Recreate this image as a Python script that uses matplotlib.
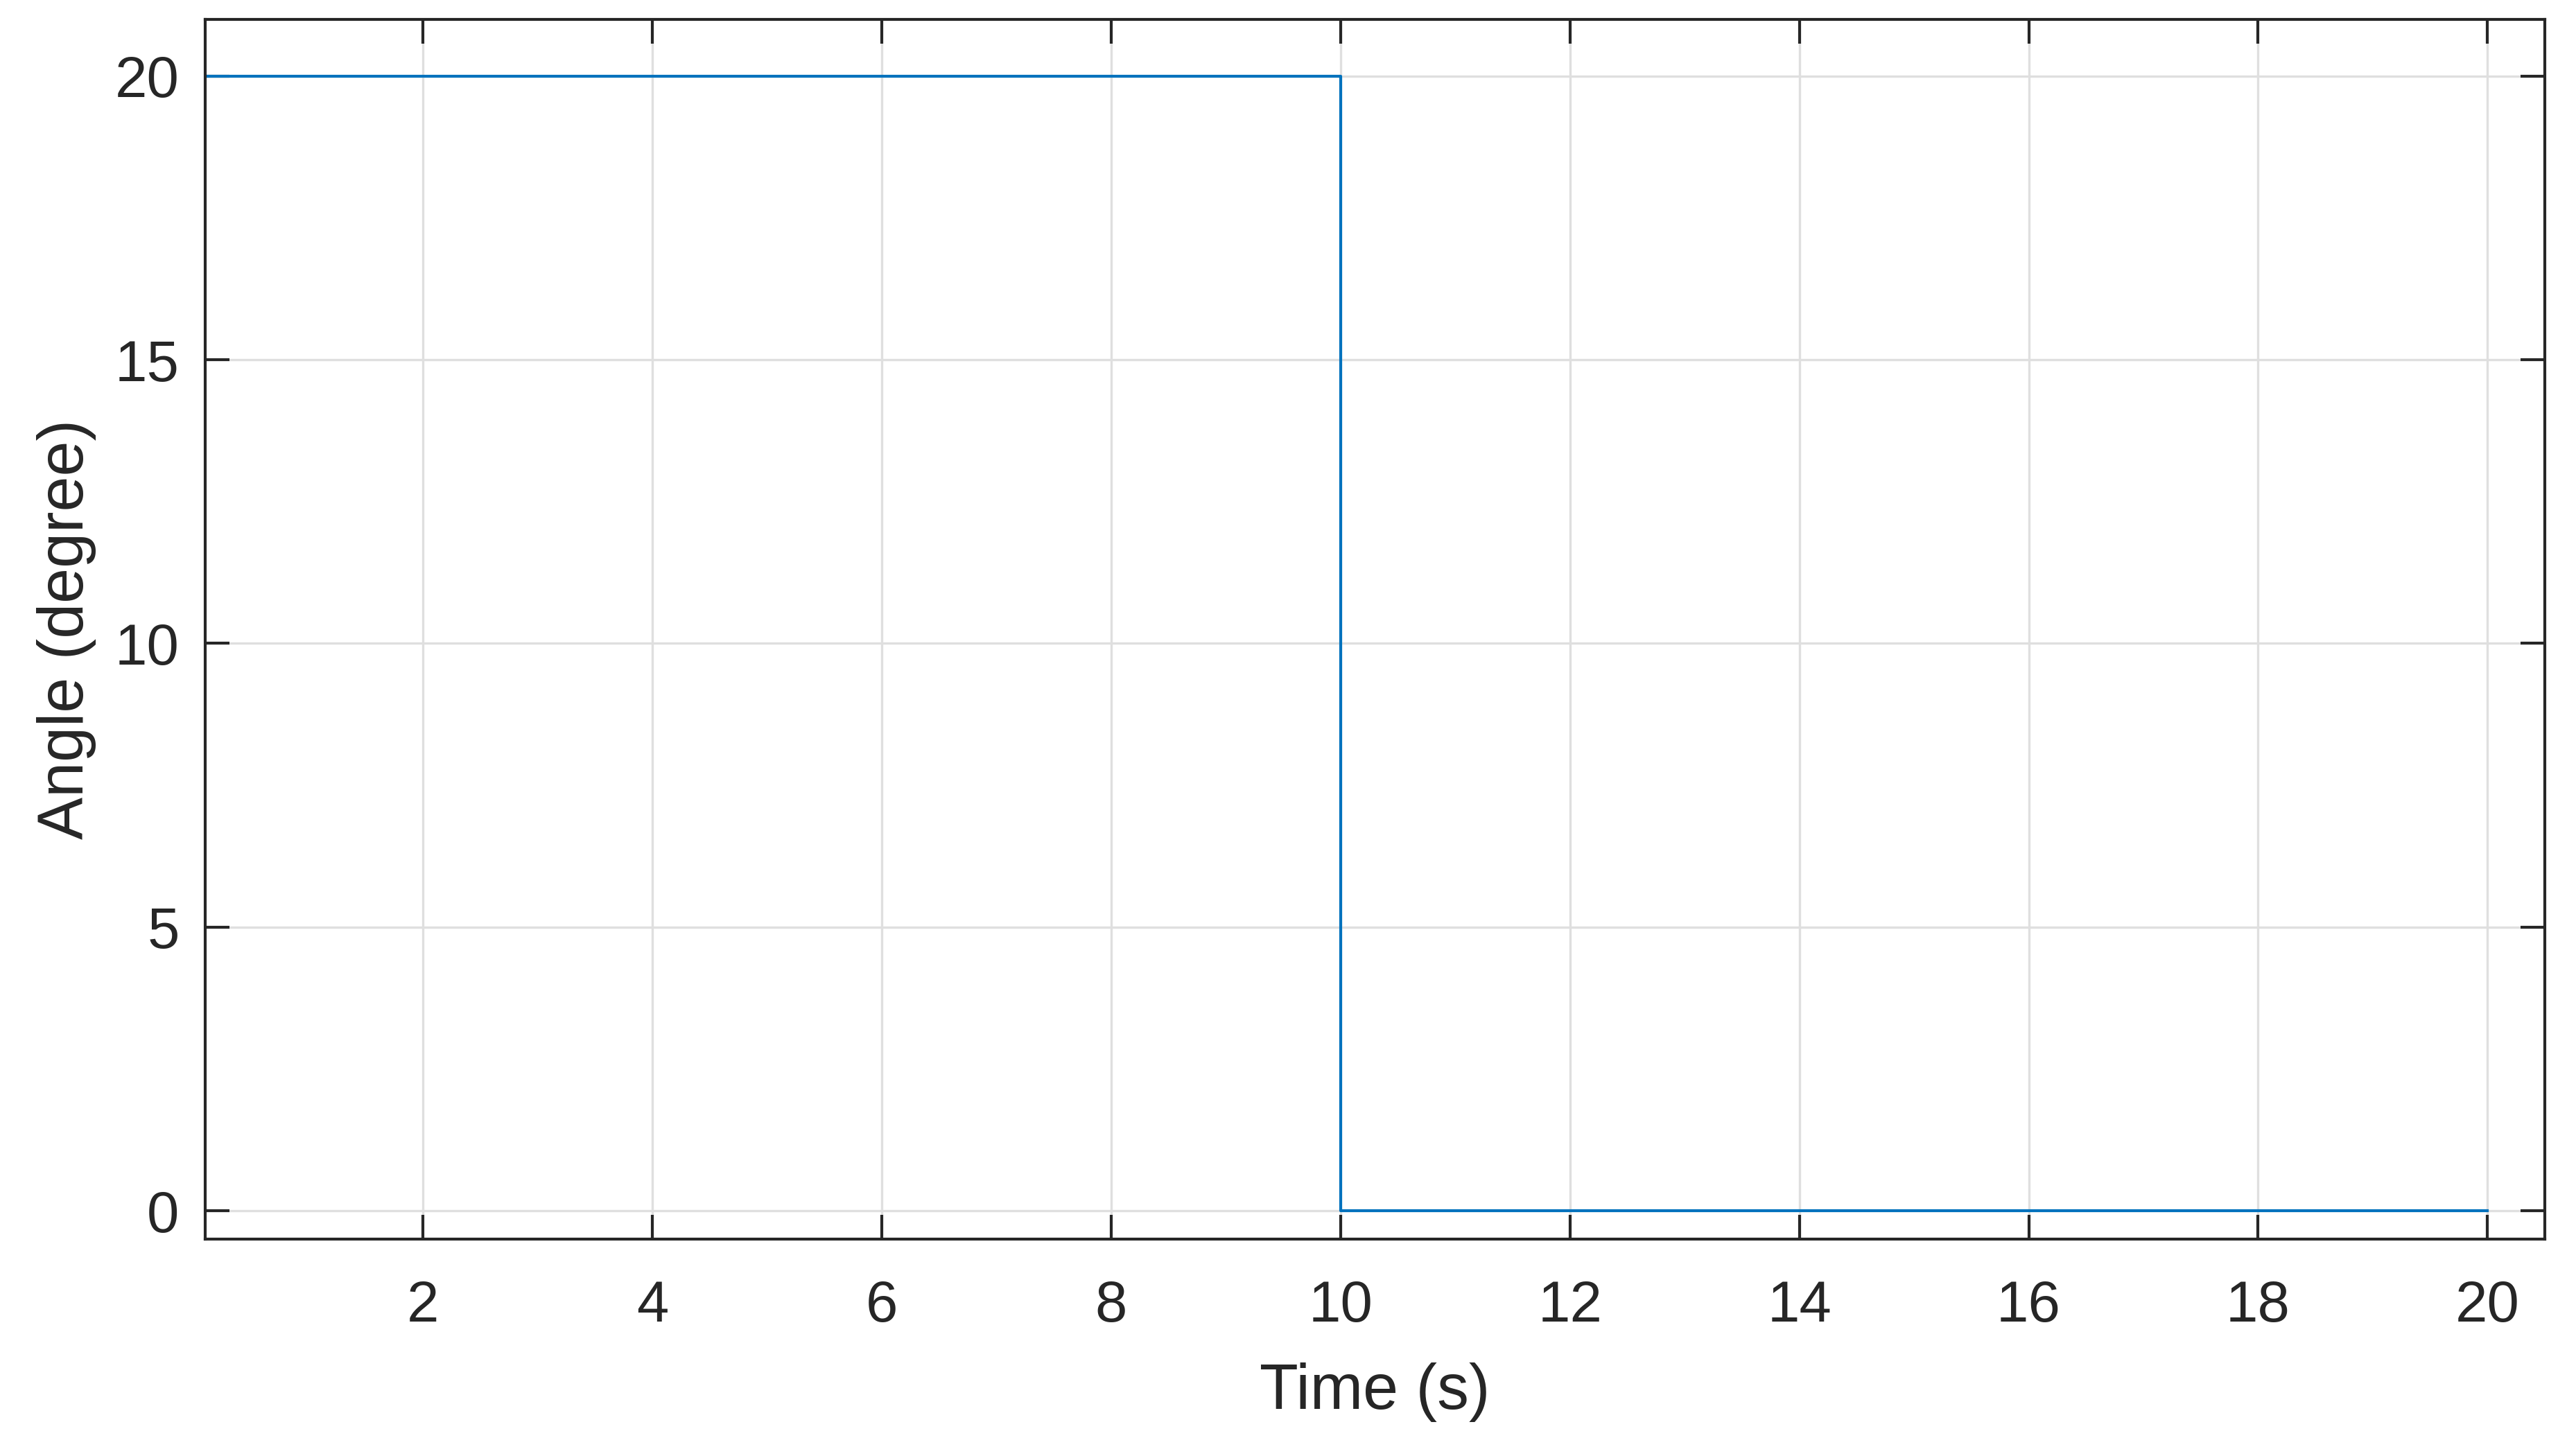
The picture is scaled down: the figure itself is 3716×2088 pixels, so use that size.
import numpy as np
import matplotlib.pyplot as plt

plt.rcParams['font.family'] = ['Liberation Sans', 'DejaVu Sans']

# step signal: 20 deg until t=10 s, then 0
time_s = [0, 10, 10, 20]
angle_deg = [20, 20, 0, 0]
x_ticks = [2, 4, 6, 8, 10, 12, 14, 16, 18, 20]
y_ticks = [0, 5, 10, 15, 20]

dark = '#262626'

fig = plt.figure(figsize=(3716 / 300, 2088 / 300), dpi=300)
ax = fig.add_axes([296 / 3716, 300 / 2088, 3375 / 3716, 1760 / 2088])

ax.plot(time_s, angle_deg, color='#0072BD', lw=1.0)

ax.set_xlim(0.1, 20.5)
ax.set_ylim(-0.5, 21)
ax.set_xticks(x_ticks)
ax.set_yticks(y_ticks)

ax.grid(True, color='#dfdfdf', lw=0.8)
ax.set_axisbelow(True)

for s in ax.spines.values():
    s.set_color(dark)
    s.set_linewidth(1.0)

ax.tick_params(direction='in', length=8.5, width=1.0, colors=dark,
               labelsize=20, top=True, right=True)
ax.tick_params(axis='x', pad=14)
ax.tick_params(axis='y', pad=9)

ax.set_xlabel('Time (s)', fontsize=22, color=dark, labelpad=10)
ax.set_ylabel('Angle (degree)', fontsize=22, color=dark, labelpad=6.5)

fig.savefig('out.png', dpi=300)
